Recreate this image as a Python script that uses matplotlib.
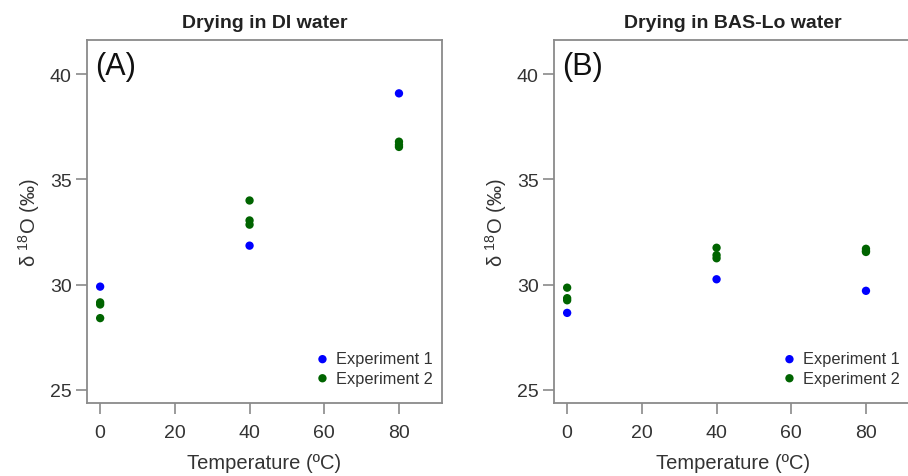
import matplotlib
matplotlib.use("Agg")
import matplotlib.pyplot as plt

plt.rcParams["font.family"] = ["Liberation Sans", "DejaVu Sans"]
plt.rcParams["mathtext.fontset"] = "custom"
plt.rcParams["mathtext.rm"] = "Liberation Sans"
plt.rcParams["mathtext.it"] = "Liberation Sans:italic"

# -------------------------
# Data (temperature in ºC, d18O in permil)
# -------------------------
temps_exp1 = [0, 40, 80]
temps_exp2 = [0, 0, 0, 40, 40, 40, 80, 80, 80]

di_exp1 = [29.9, 31.85, 39.1]
di_exp2 = [29.15, 29.05, 28.4, 34.0, 33.05, 32.85, 36.8, 36.65, 36.55]

bas_exp1 = [28.65, 30.25, 29.7]
bas_exp2 = [29.85, 29.35, 29.25, 31.75, 31.4, 31.25, 31.7, 31.6, 31.55]

panels = [
    ("Drying in DI water", "(A)", di_exp1, di_exp2),
    ("Drying in BAS-Lo water", "(B)", bas_exp1, bas_exp2),
]

x_ticks = [0, 20, 40, 60, 80]
y_ticks = [25, 30, 35, 40]

# -------------------------
# Plot
# -------------------------
fig = plt.figure(figsize=(9.08, 4.77), dpi=100)

W, H = 908, 477
# panel boxes in pixels: left, top, width, height
boxes = [(87, 41, 355, 363), (554, 41, 358, 363)]

spine_col = "#8a8a8a"
text_col = "#333333"

for (title, tag, exp1, exp2), (x0, y0, w, h) in zip(panels, boxes):
    ax = fig.add_axes([x0 / W, 1 - (y0 + h) / H, w / W, h / H])

    ax.scatter(temps_exp1, exp1, s=36, color="#0000ff", edgecolors="none",
               label="Experiment 1", zorder=3)
    ax.scatter(temps_exp2, exp2, s=36, color="#006400", edgecolors="none",
               label="Experiment 2", zorder=3)

    # same x scale in both panels
    ax.set_xlim(-3.52, -3.52 + 95.04 * w / 355)
    ax.set_ylim(24.36, 41.64)
    ax.set_xticks(x_ticks)
    ax.set_yticks(y_ticks)

    for side in ax.spines.values():
        side.set_color(spine_col)
        side.set_linewidth(1.3)

    ax.tick_params(axis="both", colors=spine_col, labelcolor=text_col,
                   length=8, width=1.2, labelsize=14)
    ax.tick_params(axis="x", pad=7)
    ax.tick_params(axis="y", pad=3)

    ax.set_title(title, fontsize=14, fontweight="bold", color="#222222", pad=9)
    ax.set_xlabel("Temperature (ºC)", fontsize=14.5, color=text_col, labelpad=9)
    ax.set_ylabel(r"δ $^{18}$O (‰)", fontsize=14.5, color=text_col, labelpad=6)

    ax.text(0.022, 0.928, tag, transform=ax.transAxes, fontsize=22,
            color="#111111", ha="left", va="center")

    legend_right = (442 - 87 - 3) / w
    ax.legend(loc="lower right", frameon=False, fontsize=11.8,
              handletextpad=0.3, handlelength=1.0, labelspacing=0.25,
              borderaxespad=0.0, bbox_to_anchor=(legend_right, 0.03),
              labelcolor=text_col)

fig.savefig("out.png", dpi=100)
